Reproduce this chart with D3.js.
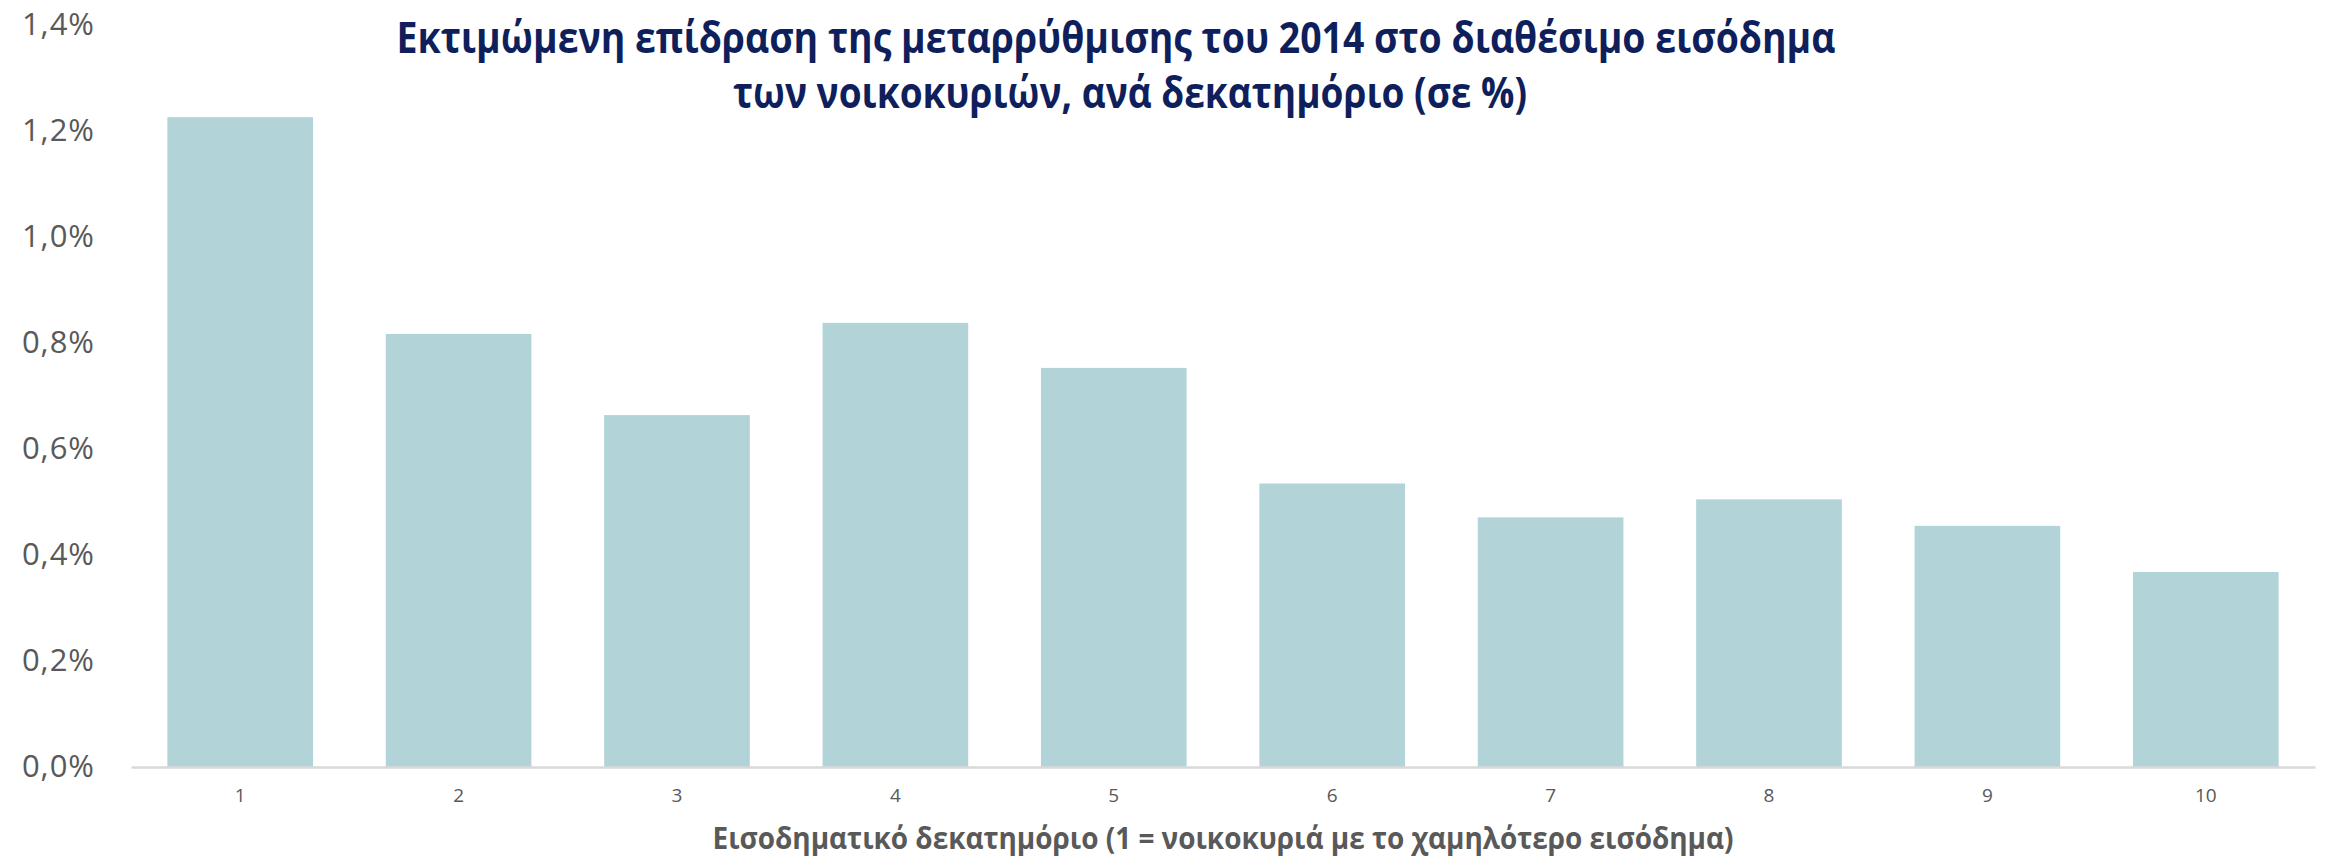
<!DOCTYPE html>
<meta charset="utf-8">
<style>
body{
  margin: 0;
  background: white;
}
svg text{
  font-family: "Open Sans", "Noto Sans", sans-serif;
}
</style>
<body>
<svg id="chart"></svg>
<script src="https://cdn.jsdelivr.net/npm/d3@7"></script>
<script>

var deciles = ['1','2','3','4','5','6','7','8','9','10']
var impact = [1.226, 0.817, 0.664, 0.838, 0.753, 0.535, 0.471, 0.505, 0.455, 0.368]
var yTicks = [0, 0.2, 0.4, 0.6, 0.8, 1.0, 1.2, 1.4]
var titleLines = [
  'Εκτιμώμενη επίδραση της μεταρρύθμισης του 2014 στο διαθέσιμο εισόδημα',
  'των νοικοκυριών, ανά δεκατημόριο (σε %)'
]
var xTitle = 'Εισοδηματικό δεκατημόριο (1 = νοικοκυριά με το χαμηλότερο εισόδημα)'

var width = 2325,
    height = 857

var svg = d3.select('#chart')
    .attr('width', width)
    .attr('height', height)

var x = d3.scaleBand()
    .domain(deciles)
    .range([131, 2315])
    .paddingInner(0.333)
    .paddingOuter(0.1665)

var y = d3.scaleLinear()
    .domain([0, 1.4])
    .range([767, 25])

var greek = d3.formatLocale({decimal: ',', thousands: '.', grouping: [3], currency: ['', '€']})
var fmt = greek.format('.1f')

// bars
svg.selectAll('rect.bar')
    .data(impact)
  .enter().append('rect')
    .attr('class', 'bar')
    .attr('x', function(d, i){ return x(deciles[i]) })
    .attr('width', x.bandwidth())
    .attr('y', function(d){ return y(d) })
    .attr('height', function(d){ return y(0) - y(d) })
    .style('fill', '#b2d4d8')

// y axis (labels only)
var yAxis = svg.append('g')
    .attr('transform', 'translate(95,0)')
    .call(d3.axisLeft(y).tickValues(yTicks).tickSize(0).tickPadding(0)
      .tickFormat(function(d){ return fmt(d) + '%' }))
yAxis.select('.domain').remove()
yAxis.selectAll('text')
    .style('font-size', '31px')
    .style('letter-spacing', '1px')
    .style('fill', '#595959')
    .style('font-family', '"Open Sans", sans-serif')

// x axis
var xAxis = svg.append('g')
    .attr('transform', 'translate(0,' + y(0) + ')')
    .call(d3.axisBottom(x).tickSize(0).tickPadding(22))
xAxis.select('.domain')
    .style('stroke', '#d9d9d9')
    .style('stroke-width', 2.5)
xAxis.selectAll('text')
    .style('font-size', '19px')
    .style('fill', '#595959')
    .style('font-family', '"Open Sans", sans-serif')

// x axis title
svg.append('text')
    .attr('x', 1223)
    .attr('y', 849)
    .attr('text-anchor', 'middle')
    .attr('textLength', 1021)
    .attr('lengthAdjust', 'spacingAndGlyphs')
    .style('font-size', '30px')
    .style('font-weight', 'bold')
    .style('fill', '#595959')
    .text(xTitle)

// title
var titleX = [1116, 1130],
    titleY = [53, 108],
    titleW = [1439, 794]
svg.selectAll('text.title')
    .data(titleLines)
  .enter().append('text')
    .attr('class', 'title')
    .attr('x', function(d, i){ return titleX[i] })
    .attr('y', function(d, i){ return titleY[i] })
    .attr('text-anchor', 'middle')
    .attr('textLength', function(d, i){ return titleW[i] })
    .attr('lengthAdjust', 'spacingAndGlyphs')
    .style('font-size', '43px')
    .style('font-weight', 'bold')
    .style('fill', '#0f1f5c')
    .text(function(d){ return d })

</script>
</body>
